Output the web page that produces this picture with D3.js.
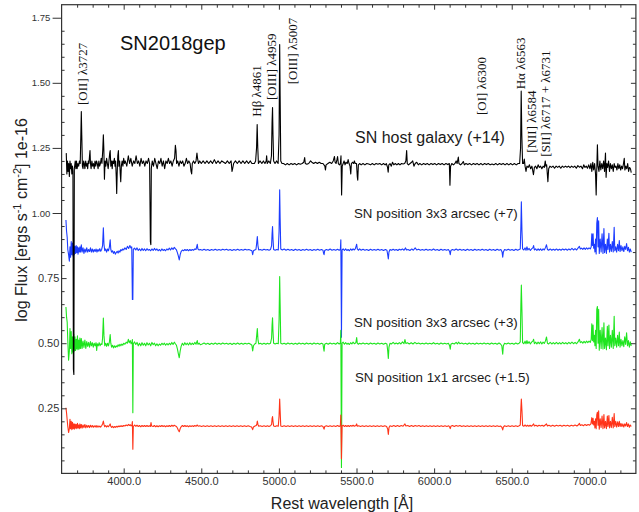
<!DOCTYPE html>
<html>
<head>
<meta charset="utf-8">
<script src="https://cdn.jsdelivr.net/npm/d3@7"></script>
<style>
  body { margin: 0; background: #fff; }
  svg { display: block; }
  text { font-family: "Liberation Sans", Arial, Helvetica, sans-serif; }
</style>
</head>
<body>
<svg id="chart" width="639" height="512"></svg>
<script>
// Rest-frame spectra [wavelength Å, log flux + offset]
const hostGalaxy = [
[3630,1.23],[3634,1.15],[3638,1.20],[3642,1.16],[3646,1.19],[3650,1.14],[3654,1.20],[3658,1.17],[3662,1.19],[3666,1.15],[3670,1.18],[3673,1.16],[3676,0.40],[3679,0.38],[3682,1.17],[3688,1.20],[3692,1.17],[3696,1.20],[3700,1.17],[3705,1.19],[3710,1.18],[3715,1.20],[3720,1.19],[3724,1.30],[3727,1.39],[3730,1.30],[3734,1.18],[3738,1.17],[3742,1.20],[3746,1.19],[3750,1.17],[3755,1.20],[3760,1.18],[3764,1.19],[3768,1.17],[3772,1.20],[3776,1.19],[3780,1.22],[3783,1.24],[3786,1.19],[3790,1.17],[3795,1.20],[3800,1.18],[3805,1.19],[3810,1.17],[3815,1.20],[3820,1.18],[3825,1.20],[3830,1.19],[3835,1.17],[3840,1.20],[3845,1.18],[3850,1.19],[3855,1.21],[3860,1.19],[3865,1.24],[3869,1.30],[3872,1.25],[3876,1.13],[3880,1.20],[3885,1.18],[3890,1.21],[3895,1.19],[3900,1.17],[3905,1.20],[3910,1.23],[3913,1.24],[3917,1.18],[3922,1.20],[3926,1.17],[3930,1.20],[3935,1.19],[3940,1.21],[3944,1.18],[3948,1.20],[3952,1.14],[3955,1.075],[3958,1.15],[3962,1.22],[3966,1.24],[3969,1.18],[3974,1.20],[3978,1.15],[3981,1.12],[3985,1.18],[3990,1.20],[3995,1.18],[4000,1.21],[4005,1.19],[4010,1.20],[4020,1.18],[4030,1.22],[4038,1.19],[4046,1.21],[4055,1.18],[4064,1.20],[4072,1.19],[4080,1.22],[4088,1.19],[4096,1.20],[4104,1.18],[4112,1.21],[4120,1.19],[4128,1.20],[4136,1.18],[4144,1.20],[4152,1.19],[4160,1.21],[4167,1.19],[4172,0.89],[4175,0.878],[4178,1.17],[4184,1.20],[4192,1.18],[4200,1.21],[4208,1.19],[4216,1.17],[4224,1.20],[4232,1.19],[4240,1.21],[4248,1.18],[4256,1.20],[4264,1.17],[4272,1.20],[4280,1.19],[4288,1.21],[4296,1.19],[4304,1.20],[4312,1.18],[4320,1.20],[4328,1.21],[4333,1.26],[4337,1.24],[4341,1.19],[4348,1.20],[4356,1.18],[4364,1.20],[4372,1.19],[4380,1.20],[4388,1.18],[4396,1.19],[4404,1.21],[4412,1.19],[4420,1.20],[4428,1.19],[4434,1.16],[4438,1.15],[4442,1.19],[4450,1.20],[4458,1.19],[4466,1.20],[4472,1.23],[4476,1.21],[4482,1.19],[4490,1.20],[4500,1.19],[4512,1.20],[4524,1.19],[4536,1.20],[4548,1.19],[4560,1.20],[4572,1.19],[4584,1.205],[4596,1.19],[4608,1.20],[4620,1.19],[4632,1.20],[4644,1.195],[4656,1.19],[4668,1.20],[4680,1.19],[4692,1.20],[4698,1.16],[4702,1.17],[4708,1.19],[4720,1.20],[4732,1.19],[4744,1.20],[4756,1.19],[4768,1.20],[4780,1.19],[4792,1.20],[4804,1.19],[4816,1.20],[4826,1.19],[4834,1.19],[4842,1.19],[4850,1.20],[4856,1.25],[4860,1.34],[4864,1.25],[4868,1.19],[4878,1.20],[4890,1.19],[4900,1.20],[4910,1.19],[4918,1.20],[4921,1.22],[4925,1.19],[4935,1.20],[4945,1.19],[4952,1.22],[4956,1.35],[4959,1.405],[4962,1.30],[4966,1.20],[4975,1.19],[4985,1.20],[4995,1.19],[5001,1.30],[5005,1.647],[5008,1.45],[5012,1.20],[5020,1.19],[5030,1.19],[5042,1.185],[5054,1.19],[5066,1.185],[5078,1.19],[5090,1.186],[5102,1.19],[5114,1.185],[5126,1.19],[5138,1.187],[5150,1.19],[5160,1.195],[5166,1.213],[5170,1.19],[5180,1.187],[5192,1.19],[5204,1.20],[5212,1.195],[5224,1.19],[5236,1.195],[5248,1.19],[5260,1.195],[5272,1.19],[5284,1.19],[5296,1.18],[5300,1.165],[5304,1.185],[5316,1.19],[5328,1.195],[5340,1.19],[5350,1.20],[5358,1.217],[5362,1.195],[5368,1.19],[5374,1.205],[5378,1.217],[5383,1.19],[5390,1.185],[5396,1.19],[5400,1.22],[5404,1.069],[5408,1.18],[5414,1.19],[5420,1.20],[5426,1.185],[5432,1.195],[5440,1.19],[5446,1.205],[5452,1.19],[5458,1.18],[5463,1.15],[5467,1.19],[5475,1.195],[5482,1.19],[5486,1.20],[5492,1.19],[5500,1.19],[5505,1.14],[5508,1.126],[5512,1.185],[5520,1.19],[5530,1.185],[5542,1.19],[5554,1.185],[5566,1.19],[5578,1.188],[5590,1.185],[5602,1.19],[5614,1.185],[5626,1.19],[5638,1.187],[5650,1.19],[5662,1.185],[5674,1.19],[5684,1.185],[5692,1.19],[5700,1.175],[5704,1.157],[5708,1.185],[5716,1.19],[5724,1.18],[5732,1.195],[5740,1.185],[5750,1.19],[5760,1.185],[5770,1.19],[5780,1.185],[5790,1.19],[5800,1.188],[5810,1.19],[5818,1.20],[5823,1.24],[5827,1.19],[5835,1.185],[5845,1.19],[5855,1.195],[5862,1.20],[5870,1.18],[5878,1.19],[5888,1.195],[5898,1.185],[5908,1.19],[5920,1.185],[5932,1.19],[5944,1.186],[5956,1.19],[5968,1.185],[5980,1.19],[5992,1.186],[6004,1.19],[6016,1.185],[6028,1.19],[6040,1.186],[6052,1.19],[6064,1.185],[6076,1.19],[6088,1.186],[6098,1.19],[6102,1.107],[6106,1.18],[6114,1.19],[6124,1.185],[6134,1.19],[6142,1.20],[6148,1.19],[6156,1.215],[6160,1.19],[6170,1.185],[6180,1.19],[6188,1.198],[6195,1.185],[6205,1.19],[6217,1.186],[6229,1.19],[6241,1.185],[6253,1.19],[6265,1.186],[6277,1.19],[6289,1.185],[6301,1.19],[6313,1.185],[6325,1.19],[6337,1.186],[6349,1.19],[6361,1.185],[6373,1.188],[6385,1.185],[6397,1.19],[6409,1.185],[6421,1.19],[6433,1.186],[6445,1.19],[6457,1.185],[6469,1.19],[6481,1.185],[6493,1.19],[6505,1.185],[6517,1.19],[6529,1.185],[6541,1.19],[6551,1.19],[6557,1.25],[6561,1.468],[6565,1.30],[6570,1.19],[6576,1.19],[6581,1.207],[6586,1.18],[6592,1.16],[6598,1.18],[6606,1.175],[6614,1.185],[6622,1.17],[6630,1.18],[6640,1.147],[6646,1.175],[6654,1.18],[6662,1.17],[6670,1.185],[6678,1.175],[6686,1.18],[6694,1.17],[6702,1.18],[6710,1.175],[6716,1.20],[6720,1.18],[6725,1.185],[6733,1.12],[6738,1.17],[6746,1.18],[6756,1.175],[6766,1.18],[6776,1.172],[6786,1.18],[6796,1.175],[6806,1.18],[6816,1.172],[6826,1.18],[6836,1.175],[6846,1.18],[6856,1.176],[6866,1.18],[6876,1.174],[6886,1.18],[6896,1.175],[6906,1.18],[6916,1.172],[6926,1.182],[6936,1.176],[6946,1.18],[6956,1.17],[6964,1.185],[6972,1.175],[6980,1.18],[6988,1.172],[6996,1.185],[7004,1.17],[7010,1.19],[7016,1.16],[7022,1.195],[7028,1.165],[7034,1.19],[7040,1.15],[7044,1.069],[7048,1.17],[7052,1.262],[7056,1.18],[7062,1.16],[7068,1.20],[7074,1.165],[7080,1.19],[7086,1.17],[7092,1.20],[7098,1.16],[7104,1.23],[7108,1.137],[7113,1.19],[7118,1.175],[7124,1.20],[7130,1.16],[7136,1.19],[7142,1.17],[7148,1.185],[7154,1.16],[7160,1.19],[7166,1.175],[7172,1.18],[7178,1.165],[7184,1.19],[7190,1.17],[7196,1.185],[7202,1.165],[7208,1.18],[7214,1.17],[7220,1.19],[7225,1.21],[7229,1.165],[7235,1.18],[7241,1.17],[7247,1.19],[7253,1.16],[7259,1.175],[7265,1.17],[7270,1.155]
];

const snPos3x3Plus7 = [
[3628,0.973],[3632,0.93],[3636,0.907],[3640,0.86],[3645,0.84],[3650,0.815],[3654,0.87],[3658,0.83],[3662,0.89],[3666,0.84],[3670,0.885],[3674,0.835],[3678,0.875],[3682,0.84],[3686,0.872],[3690,0.845],[3694,0.875],[3698,0.848],[3702,0.87],[3706,0.842],[3710,0.866],[3714,0.85],[3718,0.87],[3722,0.85],[3727,0.878],[3732,0.85],[3738,0.866],[3744,0.845],[3750,0.862],[3756,0.85],[3762,0.866],[3768,0.85],[3774,0.86],[3780,0.852],[3786,0.866],[3792,0.85],[3798,0.862],[3804,0.85],[3810,0.86],[3816,0.852],[3822,0.862],[3828,0.85],[3834,0.86],[3840,0.853],[3846,0.863],[3852,0.853],[3858,0.86],[3864,0.875],[3869,0.943],[3873,0.88],[3878,0.855],[3884,0.862],[3890,0.85],[3896,0.862],[3902,0.855],[3908,0.87],[3913,0.897],[3917,0.86],[3922,0.85],[3928,0.855],[3934,0.845],[3940,0.852],[3946,0.842],[3952,0.848],[3958,0.853],[3964,0.846],[3970,0.855],[3976,0.85],[3982,0.86],[3988,0.855],[3994,0.862],[4000,0.858],[4008,0.866],[4016,0.86],[4024,0.872],[4032,0.864],[4040,0.875],[4046,0.866],[4052,0.87],[4056,0.668],[4059,0.668],[4062,0.86],[4070,0.865],[4078,0.858],[4086,0.866],[4094,0.856],[4102,0.862],[4110,0.855],[4118,0.864],[4126,0.856],[4134,0.862],[4142,0.855],[4150,0.863],[4158,0.857],[4166,0.86],[4174,0.855],[4182,0.862],[4190,0.856],[4198,0.864],[4206,0.857],[4214,0.862],[4222,0.855],[4230,0.86],[4238,0.854],[4246,0.862],[4254,0.856],[4262,0.86],[4270,0.855],[4278,0.862],[4286,0.858],[4294,0.865],[4302,0.858],[4310,0.866],[4318,0.86],[4326,0.868],[4334,0.862],[4340,0.858],[4346,0.848],[4352,0.835],[4358,0.82],[4364,0.84],[4370,0.852],[4378,0.858],[4386,0.855],[4394,0.86],[4402,0.856],[4410,0.86],[4418,0.855],[4426,0.86],[4434,0.856],[4442,0.86],[4450,0.857],[4458,0.862],[4466,0.86],[4471,0.872],[4474,0.88],[4478,0.862],[4486,0.858],[4494,0.86],[4506,0.857],[4518,0.861],[4530,0.857],[4542,0.86],[4554,0.856],[4566,0.86],[4578,0.857],[4590,0.861],[4602,0.857],[4614,0.86],[4626,0.857],[4638,0.861],[4650,0.858],[4662,0.861],[4674,0.857],[4686,0.86],[4698,0.856],[4710,0.86],[4722,0.857],[4734,0.861],[4746,0.857],[4758,0.86],[4770,0.857],[4782,0.861],[4794,0.858],[4806,0.86],[4818,0.857],[4826,0.855],[4831,0.84],[4836,0.855],[4844,0.858],[4852,0.86],[4857,0.885],[4861,0.91],[4865,0.875],[4870,0.858],[4880,0.86],[4892,0.857],[4904,0.861],[4916,0.858],[4926,0.86],[4936,0.857],[4946,0.86],[4953,0.875],[4956,0.92],[4959,0.948],[4962,0.9],[4966,0.86],[4976,0.857],[4986,0.86],[4996,0.858],[5001,0.93],[5005,1.089],[5008,0.98],[5012,0.862],[5022,0.858],[5034,0.862],[5046,0.857],[5058,0.861],[5070,0.857],[5082,0.86],[5094,0.856],[5106,0.861],[5118,0.857],[5130,0.86],[5142,0.856],[5154,0.86],[5166,0.857],[5178,0.861],[5190,0.857],[5202,0.86],[5214,0.856],[5226,0.86],[5238,0.857],[5250,0.861],[5262,0.857],[5274,0.86],[5284,0.857],[5288,0.845],[5291,0.84],[5295,0.856],[5306,0.86],[5318,0.857],[5330,0.862],[5342,0.857],[5354,0.86],[5366,0.857],[5378,0.861],[5388,0.857],[5396,0.86],[5399,0.897],[5403,0.523],[5407,0.858],[5414,0.862],[5422,0.856],[5430,0.862],[5438,0.856],[5446,0.86],[5454,0.855],[5462,0.862],[5470,0.857],[5478,0.862],[5486,0.858],[5492,0.862],[5497,0.872],[5501,0.88],[5505,0.862],[5512,0.857],[5520,0.862],[5530,0.857],[5542,0.861],[5554,0.857],[5566,0.86],[5578,0.856],[5590,0.861],[5602,0.857],[5614,0.86],[5626,0.857],[5638,0.861],[5650,0.857],[5662,0.86],[5674,0.856],[5686,0.86],[5696,0.857],[5701,0.84],[5705,0.824],[5709,0.85],[5716,0.86],[5726,0.857],[5736,0.861],[5746,0.857],[5756,0.86],[5766,0.856],[5776,0.861],[5786,0.858],[5796,0.862],[5806,0.857],[5816,0.866],[5822,0.858],[5832,0.86],[5844,0.856],[5856,0.862],[5866,0.857],[5878,0.866],[5888,0.858],[5900,0.861],[5912,0.857],[5924,0.86],[5936,0.857],[5948,0.861],[5960,0.857],[5972,0.86],[5984,0.857],[5996,0.862],[6008,0.857],[6020,0.86],[6032,0.856],[6044,0.861],[6056,0.857],[6068,0.86],[6080,0.857],[6092,0.86],[6100,0.852],[6104,0.84],[6108,0.856],[6118,0.86],[6130,0.857],[6142,0.862],[6154,0.857],[6166,0.861],[6178,0.857],[6190,0.86],[6202,0.856],[6214,0.861],[6226,0.857],[6238,0.86],[6250,0.856],[6262,0.861],[6274,0.857],[6286,0.86],[6298,0.857],[6310,0.861],[6322,0.857],[6334,0.86],[6346,0.856],[6358,0.861],[6370,0.857],[6382,0.86],[6394,0.856],[6406,0.861],[6418,0.857],[6430,0.86],[6438,0.85],[6442,0.83],[6446,0.85],[6454,0.86],[6466,0.857],[6478,0.861],[6490,0.857],[6502,0.86],[6514,0.856],[6526,0.861],[6538,0.857],[6548,0.86],[6555,0.862],[6559,0.95],[6562,1.043],[6566,0.93],[6570,0.862],[6578,0.858],[6586,0.866],[6592,0.857],[6598,0.87],[6604,0.858],[6612,0.864],[6620,0.856],[6628,0.862],[6636,0.866],[6641,0.875],[6646,0.858],[6654,0.862],[6662,0.856],[6670,0.862],[6678,0.857],[6686,0.862],[6694,0.856],[6702,0.862],[6710,0.858],[6718,0.868],[6724,0.878],[6730,0.86],[6738,0.857],[6748,0.862],[6758,0.857],[6768,0.861],[6778,0.857],[6788,0.862],[6798,0.857],[6808,0.861],[6818,0.857],[6828,0.862],[6838,0.858],[6848,0.862],[6858,0.857],[6868,0.862],[6878,0.858],[6888,0.864],[6898,0.858],[6908,0.863],[6918,0.858],[6928,0.866],[6936,0.872],[6942,0.862],[6950,0.865],[6958,0.86],[6966,0.866],[6974,0.86],[6982,0.866],[6990,0.861],[6998,0.866],[7006,0.862],[7012,0.87],[7016,0.92],[7020,0.875],[7024,0.92],[7028,0.865],[7032,0.88],[7036,0.85],[7040,0.9],[7044,0.843],[7048,0.96],[7052,0.983],[7056,0.87],[7060,0.97],[7064,0.845],[7070,0.9],[7076,0.85],[7082,0.92],[7088,0.845],[7094,0.94],[7098,0.848],[7104,0.88],[7110,0.845],[7116,0.9],[7120,0.86],[7126,0.922],[7130,0.85],[7136,0.88],[7142,0.852],[7148,0.89],[7154,0.85],[7160,0.945],[7164,0.855],[7170,0.87],[7176,0.85],[7182,0.88],[7188,0.855],[7193,0.894],[7198,0.852],[7204,0.875],[7210,0.855],[7216,0.87],[7222,0.852],[7228,0.872],[7234,0.86],[7240,0.883],[7246,0.855],[7252,0.868],[7258,0.85],[7264,0.862],[7270,0.85]
];

const snPos3x3Plus3 = [
[3628,0.639],[3632,0.6],[3636,0.581],[3640,0.51],[3645,0.435],[3650,0.47],[3654,0.556],[3658,0.48],[3662,0.545],[3666,0.46],[3670,0.525],[3674,0.465],[3678,0.535],[3682,0.47],[3686,0.525],[3690,0.472],[3694,0.515],[3698,0.478],[3702,0.528],[3706,0.475],[3710,0.512],[3714,0.478],[3718,0.52],[3722,0.48],[3727,0.518],[3732,0.48],[3738,0.508],[3744,0.484],[3750,0.512],[3756,0.48],[3762,0.506],[3768,0.488],[3774,0.503],[3780,0.485],[3786,0.506],[3792,0.49],[3798,0.502],[3804,0.485],[3810,0.5],[3816,0.49],[3822,0.502],[3826,0.472],[3830,0.498],[3836,0.49],[3842,0.502],[3848,0.49],[3854,0.498],[3860,0.495],[3864,0.52],[3869,0.597],[3873,0.53],[3878,0.49],[3884,0.5],[3890,0.488],[3896,0.5],[3902,0.49],[3908,0.505],[3913,0.533],[3917,0.5],[3922,0.485],[3928,0.492],[3934,0.482],[3940,0.49],[3946,0.484],[3952,0.49],[3958,0.486],[3964,0.494],[3970,0.488],[3976,0.496],[3982,0.49],[3988,0.497],[3994,0.492],[4000,0.5],[4008,0.496],[4016,0.504],[4024,0.5],[4030,0.515],[4036,0.502],[4042,0.51],[4048,0.498],[4053,0.505],[4056,0.514],[4059,0.233],[4062,0.498],[4070,0.505],[4078,0.495],[4086,0.503],[4094,0.49],[4102,0.5],[4110,0.49],[4118,0.502],[4126,0.492],[4134,0.5],[4142,0.49],[4150,0.502],[4158,0.493],[4166,0.5],[4174,0.49],[4182,0.503],[4190,0.494],[4198,0.5],[4206,0.49],[4214,0.498],[4222,0.49],[4230,0.497],[4238,0.492],[4246,0.5],[4254,0.494],[4262,0.5],[4270,0.492],[4278,0.499],[4286,0.493],[4294,0.5],[4302,0.494],[4310,0.503],[4318,0.495],[4326,0.504],[4334,0.497],[4340,0.492],[4346,0.478],[4352,0.46],[4358,0.444],[4364,0.47],[4370,0.488],[4378,0.5],[4386,0.492],[4394,0.502],[4402,0.494],[4410,0.5],[4418,0.493],[4426,0.502],[4434,0.494],[4442,0.5],[4450,0.495],[4458,0.503],[4466,0.496],[4471,0.505],[4474,0.51],[4478,0.496],[4486,0.5],[4494,0.494],[4506,0.497],[4518,0.501],[4530,0.496],[4542,0.5],[4554,0.495],[4566,0.5],[4578,0.496],[4590,0.501],[4602,0.496],[4614,0.5],[4626,0.496],[4638,0.501],[4650,0.497],[4662,0.5],[4674,0.496],[4686,0.5],[4698,0.495],[4710,0.5],[4722,0.496],[4734,0.501],[4746,0.496],[4758,0.5],[4770,0.496],[4782,0.5],[4794,0.497],[4806,0.5],[4818,0.496],[4826,0.492],[4831,0.47],[4836,0.49],[4844,0.497],[4852,0.5],[4857,0.53],[4861,0.556],[4865,0.515],[4870,0.497],[4880,0.5],[4892,0.496],[4904,0.5],[4916,0.496],[4926,0.5],[4936,0.497],[4946,0.5],[4953,0.52],[4956,0.57],[4959,0.598],[4962,0.545],[4966,0.5],[4976,0.497],[4986,0.5],[4996,0.498],[5001,0.59],[5005,0.756],[5008,0.65],[5012,0.5],[5022,0.497],[5034,0.5],[5046,0.496],[5058,0.501],[5070,0.497],[5082,0.5],[5094,0.496],[5106,0.5],[5118,0.496],[5130,0.501],[5142,0.497],[5154,0.5],[5166,0.496],[5178,0.501],[5190,0.497],[5202,0.5],[5214,0.496],[5226,0.501],[5238,0.497],[5250,0.5],[5262,0.496],[5274,0.5],[5284,0.497],[5288,0.48],[5291,0.469],[5295,0.496],[5306,0.5],[5318,0.496],[5330,0.501],[5342,0.497],[5354,0.5],[5366,0.496],[5378,0.502],[5388,0.497],[5396,0.5],[5399,0.55],[5403,0.023],[5407,0.5],[5414,0.504],[5422,0.496],[5430,0.502],[5438,0.496],[5446,0.5],[5454,0.495],[5462,0.502],[5470,0.497],[5478,0.504],[5486,0.498],[5496,0.502],[5501,0.522],[5505,0.5],[5512,0.496],[5520,0.5],[5530,0.497],[5542,0.501],[5554,0.497],[5566,0.5],[5578,0.496],[5590,0.501],[5602,0.497],[5614,0.5],[5626,0.496],[5638,0.501],[5650,0.497],[5662,0.5],[5674,0.496],[5686,0.5],[5696,0.497],[5701,0.47],[5705,0.441],[5709,0.485],[5716,0.5],[5726,0.497],[5736,0.503],[5746,0.497],[5756,0.501],[5766,0.497],[5776,0.502],[5786,0.497],[5796,0.505],[5806,0.498],[5812,0.514],[5818,0.499],[5828,0.502],[5840,0.497],[5852,0.502],[5864,0.497],[5876,0.503],[5888,0.498],[5900,0.501],[5912,0.497],[5924,0.5],[5936,0.497],[5948,0.501],[5960,0.497],[5972,0.5],[5984,0.497],[5996,0.502],[6008,0.497],[6020,0.5],[6032,0.496],[6044,0.501],[6056,0.497],[6068,0.5],[6080,0.497],[6092,0.5],[6100,0.49],[6104,0.477],[6108,0.496],[6118,0.5],[6130,0.497],[6142,0.503],[6150,0.497],[6158,0.504],[6166,0.498],[6178,0.501],[6190,0.497],[6202,0.5],[6214,0.496],[6226,0.501],[6238,0.497],[6250,0.5],[6262,0.496],[6274,0.501],[6286,0.497],[6298,0.5],[6310,0.497],[6322,0.501],[6334,0.497],[6346,0.5],[6358,0.496],[6370,0.501],[6382,0.497],[6394,0.5],[6406,0.496],[6418,0.501],[6428,0.497],[6436,0.49],[6442,0.458],[6446,0.49],[6454,0.5],[6466,0.497],[6478,0.501],[6490,0.497],[6502,0.5],[6514,0.496],[6526,0.501],[6538,0.497],[6548,0.5],[6555,0.505],[6559,0.65],[6562,0.723],[6566,0.62],[6570,0.502],[6578,0.498],[6586,0.508],[6592,0.498],[6598,0.51],[6604,0.499],[6612,0.506],[6620,0.497],[6628,0.504],[6636,0.508],[6641,0.515],[6646,0.498],[6654,0.504],[6662,0.497],[6670,0.504],[6678,0.498],[6686,0.505],[6694,0.497],[6702,0.504],[6710,0.499],[6718,0.51],[6724,0.524],[6730,0.5],[6738,0.497],[6748,0.503],[6758,0.497],[6768,0.502],[6778,0.497],[6788,0.503],[6798,0.497],[6808,0.502],[6818,0.497],[6828,0.503],[6838,0.498],[6848,0.502],[6858,0.497],[6868,0.503],[6878,0.498],[6888,0.504],[6898,0.498],[6908,0.503],[6918,0.498],[6928,0.506],[6936,0.515],[6942,0.502],[6950,0.506],[6958,0.5],[6966,0.507],[6974,0.501],[6982,0.508],[6990,0.502],[6998,0.508],[7006,0.503],[7012,0.515],[7016,0.575],[7020,0.51],[7024,0.57],[7028,0.505],[7032,0.53],[7036,0.49],[7040,0.55],[7044,0.48],[7048,0.63],[7052,0.641],[7056,0.5],[7060,0.63],[7064,0.473],[7070,0.55],[7076,0.48],[7082,0.56],[7088,0.478],[7094,0.578],[7098,0.48],[7104,0.52],[7110,0.475],[7116,0.565],[7120,0.49],[7126,0.57],[7130,0.48],[7136,0.53],[7142,0.485],[7148,0.55],[7154,0.48],[7160,0.603],[7164,0.49],[7170,0.52],[7176,0.485],[7182,0.53],[7188,0.49],[7193,0.543],[7198,0.485],[7204,0.515],[7210,0.49],[7216,0.51],[7222,0.487],[7228,0.525],[7234,0.495],[7240,0.54],[7246,0.49],[7252,0.51],[7258,0.485],[7264,0.505],[7270,0.49]
];

const snPos1x1Plus15 = [
[3628,0.252],[3632,0.232],[3636,0.205],[3640,0.18],[3645,0.157],[3650,0.172],[3654,0.208],[3658,0.172],[3662,0.2],[3666,0.168],[3670,0.196],[3674,0.172],[3678,0.19],[3682,0.17],[3686,0.19],[3690,0.174],[3694,0.188],[3698,0.172],[3702,0.192],[3706,0.175],[3710,0.186],[3714,0.172],[3718,0.19],[3722,0.175],[3727,0.188],[3732,0.174],[3738,0.186],[3744,0.176],[3750,0.188],[3756,0.175],[3762,0.185],[3768,0.177],[3774,0.184],[3780,0.176],[3786,0.185],[3792,0.178],[3798,0.184],[3804,0.177],[3810,0.183],[3816,0.178],[3822,0.184],[3828,0.177],[3834,0.183],[3840,0.178],[3846,0.182],[3852,0.178],[3858,0.183],[3864,0.19],[3869,0.201],[3873,0.188],[3878,0.179],[3884,0.184],[3890,0.178],[3896,0.183],[3902,0.179],[3908,0.185],[3913,0.19],[3917,0.181],[3922,0.177],[3928,0.181],[3934,0.176],[3940,0.18],[3946,0.177],[3952,0.181],[3958,0.178],[3964,0.182],[3970,0.179],[3976,0.183],[3982,0.18],[3988,0.183],[3994,0.18],[4000,0.184],[4008,0.182],[4016,0.186],[4024,0.183],[4030,0.188],[4036,0.184],[4042,0.187],[4048,0.182],[4053,0.186],[4056,0.199],[4059,0.093],[4062,0.18],[4070,0.186],[4078,0.181],[4086,0.185],[4094,0.18],[4102,0.184],[4110,0.179],[4118,0.184],[4126,0.18],[4134,0.184],[4142,0.18],[4150,0.184],[4158,0.18],[4166,0.183],[4172,0.18],[4176,0.195],[4180,0.182],[4190,0.18],[4198,0.184],[4206,0.179],[4214,0.183],[4222,0.179],[4230,0.183],[4238,0.18],[4246,0.184],[4254,0.18],[4262,0.183],[4270,0.179],[4278,0.183],[4286,0.18],[4294,0.184],[4302,0.18],[4310,0.185],[4318,0.181],[4326,0.185],[4334,0.182],[4340,0.18],[4346,0.174],[4352,0.166],[4358,0.16],[4364,0.172],[4370,0.179],[4378,0.184],[4386,0.18],[4394,0.184],[4402,0.18],[4410,0.183],[4418,0.179],[4426,0.183],[4434,0.18],[4442,0.183],[4450,0.18],[4458,0.184],[4466,0.181],[4474,0.186],[4480,0.181],[4490,0.183],[4502,0.18],[4514,0.183],[4526,0.18],[4538,0.183],[4550,0.18],[4562,0.183],[4574,0.18],[4586,0.183],[4598,0.18],[4610,0.183],[4622,0.18],[4634,0.183],[4646,0.18],[4658,0.183],[4670,0.18],[4682,0.183],[4694,0.18],[4706,0.183],[4718,0.18],[4730,0.183],[4742,0.18],[4754,0.183],[4766,0.18],[4778,0.183],[4790,0.18],[4802,0.183],[4814,0.18],[4824,0.178],[4831,0.168],[4836,0.178],[4846,0.182],[4854,0.184],[4858,0.19],[4861,0.201],[4865,0.188],[4870,0.181],[4880,0.183],[4892,0.18],[4904,0.183],[4916,0.18],[4926,0.183],[4936,0.18],[4946,0.183],[4953,0.188],[4956,0.21],[4959,0.218],[4962,0.2],[4966,0.182],[4976,0.18],[4986,0.183],[4996,0.181],[5001,0.22],[5005,0.286],[5008,0.24],[5012,0.182],[5022,0.18],[5034,0.183],[5046,0.18],[5058,0.183],[5070,0.18],[5082,0.183],[5094,0.18],[5106,0.183],[5118,0.18],[5130,0.183],[5142,0.18],[5154,0.183],[5166,0.18],[5178,0.183],[5190,0.18],[5202,0.183],[5214,0.18],[5226,0.183],[5238,0.18],[5250,0.183],[5262,0.18],[5274,0.183],[5284,0.18],[5288,0.174],[5291,0.17],[5295,0.18],[5306,0.183],[5318,0.18],[5330,0.183],[5342,0.18],[5354,0.183],[5366,0.18],[5378,0.184],[5388,0.18],[5396,0.183],[5399,0.224],[5403,0.056],[5407,0.182],[5414,0.185],[5422,0.18],[5430,0.184],[5438,0.18],[5446,0.184],[5454,0.18],[5462,0.184],[5470,0.181],[5478,0.185],[5486,0.181],[5496,0.184],[5501,0.19],[5505,0.181],[5514,0.183],[5526,0.18],[5538,0.183],[5550,0.18],[5562,0.183],[5574,0.18],[5586,0.183],[5598,0.18],[5610,0.183],[5622,0.18],[5634,0.183],[5646,0.18],[5658,0.183],[5670,0.18],[5682,0.183],[5694,0.18],[5701,0.17],[5705,0.15],[5709,0.175],[5716,0.183],[5728,0.18],[5740,0.184],[5752,0.18],[5764,0.184],[5776,0.18],[5788,0.184],[5800,0.181],[5812,0.19],[5818,0.182],[5830,0.184],[5842,0.18],[5854,0.184],[5866,0.18],[5878,0.184],[5890,0.181],[5902,0.184],[5914,0.18],[5926,0.183],[5938,0.18],[5950,0.183],[5962,0.18],[5974,0.183],[5986,0.18],[5998,0.183],[6010,0.18],[6022,0.183],[6034,0.18],[6046,0.183],[6058,0.18],[6070,0.183],[6082,0.18],[6094,0.183],[6100,0.178],[6104,0.172],[6108,0.181],[6118,0.184],[6130,0.18],[6142,0.184],[6154,0.181],[6166,0.184],[6178,0.18],[6190,0.183],[6202,0.18],[6214,0.183],[6226,0.18],[6238,0.183],[6250,0.18],[6262,0.183],[6274,0.18],[6286,0.183],[6298,0.18],[6310,0.183],[6322,0.18],[6334,0.183],[6346,0.18],[6358,0.183],[6370,0.18],[6382,0.183],[6394,0.18],[6406,0.183],[6418,0.18],[6428,0.182],[6436,0.178],[6442,0.167],[6446,0.178],[6454,0.183],[6466,0.18],[6478,0.183],[6490,0.18],[6502,0.183],[6514,0.18],[6526,0.183],[6538,0.18],[6548,0.183],[6555,0.186],[6559,0.25],[6562,0.286],[6566,0.24],[6570,0.184],[6578,0.181],[6586,0.186],[6594,0.181],[6602,0.185],[6610,0.181],[6618,0.185],[6626,0.181],[6634,0.185],[6641,0.19],[6646,0.182],[6656,0.185],[6666,0.181],[6676,0.185],[6686,0.182],[6696,0.185],[6706,0.181],[6716,0.186],[6724,0.19],[6730,0.182],[6740,0.185],[6752,0.181],[6764,0.185],[6776,0.181],[6788,0.185],[6800,0.182],[6812,0.185],[6824,0.181],[6836,0.185],[6848,0.182],[6860,0.185],[6872,0.181],[6884,0.185],[6896,0.182],[6908,0.186],[6920,0.182],[6930,0.187],[6936,0.192],[6942,0.184],[6952,0.187],[6962,0.183],[6972,0.188],[6982,0.184],[6992,0.188],[7002,0.185],[7010,0.19],[7016,0.214],[7020,0.19],[7024,0.212],[7028,0.186],[7032,0.2],[7036,0.175],[7040,0.21],[7044,0.172],[7048,0.225],[7052,0.235],[7056,0.185],[7060,0.24],[7064,0.17],[7070,0.21],[7076,0.176],[7082,0.22],[7088,0.172],[7094,0.226],[7098,0.175],[7104,0.2],[7110,0.172],[7116,0.22],[7120,0.18],[7126,0.222],[7130,0.175],[7136,0.2],[7142,0.176],[7148,0.215],[7154,0.175],[7160,0.23],[7164,0.18],[7170,0.2],[7176,0.178],[7182,0.198],[7188,0.18],[7193,0.2],[7198,0.18],[7204,0.192],[7210,0.18],[7216,0.19],[7222,0.178],[7228,0.19],[7234,0.182],[7240,0.195],[7246,0.18],[7252,0.19],[7258,0.177],[7264,0.186],[7270,0.18]
];

const seriesNames = ["SN host galaxy (+14)", "SN position 3x3 arcsec (+7)", "SN position 3x3 arcsec (+3)", "SN position 1x1 arcsec (+1.5)"];
const lineNames = ["[OII] λ3727", "Hβ λ4861", "[OIII] λ4959", "[OIII] λ5007", "[OI] λ6300", "Hα λ6563", "[NII] λ6584", "[SII] λ6717 + λ6731"];
const xTickValues = [4000, 4500, 5000, 5500, 6000, 6500, 7000];
const yTickValues = [0.25, 0.5, 0.75, 1.0, 1.25, 1.5, 1.75];
const chartTitle = "SN2018gep";

// ---- layout ----
const svg = d3.select("#chart");
const L = 61.6, R = 635.9, T = 4.7, B = 473.4;
const x = d3.scaleLinear().domain([3600, 7300]).range([L, R]);
const y = d3.scaleLinear().domain([0, 1.8]).range([B, T]);
const axisColor = "#333";

const line = d3.line().x(d => x(d[0])).y(d => y(d[1]));

const spectra = [
  { data: snPos3x3Plus7, color: "#1c3cff" },
  { data: snPos3x3Plus3, color: "#1fe51f" },
  { data: snPos1x1Plus15, color: "#ff3318" },
  { data: hostGalaxy, color: "#000000" }
];

const plot = svg.append("g");
plot.selectAll("path.spec")
  .data(spectra)
  .join("path")
  .attr("class", "spec")
  .attr("fill", "none")
  .attr("stroke", d => d.color)
  .attr("stroke-width", 1.1)
  .attr("stroke-linejoin", "round")
  .attr("d", d => line(d.data));

// frame
svg.append("rect")
  .attr("x", L).attr("y", T).attr("width", R - L).attr("height", B - T)
  .attr("fill", "none").attr("stroke", axisColor).attr("stroke-width", 1.2);

const xMinor = d3.range(3700, 7300, 100).filter(v => !xTickValues.includes(v));
const yMinor = d3.range(1, 36).map(i => +(i * 0.05).toFixed(2)).filter(v => !yTickValues.includes(v));

function styleAxis(g) {
  g.select(".domain").remove();
  g.selectAll(".tick line").attr("stroke", axisColor);
  g.selectAll(".tick text").attr("fill", "#333").style("font-family", "'Liberation Sans', Arial, sans-serif");
}

// bottom
svg.append("g").attr("transform", `translate(0,${B})`)
  .call(d3.axisBottom(x).tickValues(xTickValues).tickSize(-5).tickPadding(3.5).tickFormat(d3.format(".1f")))
  .call(styleAxis)
  .call(g => g.selectAll(".tick text").style("font-size", "11px"));
svg.append("g").attr("transform", `translate(0,${B})`)
  .call(d3.axisBottom(x).tickValues(xMinor).tickSize(-3).tickFormat(""))
  .call(styleAxis);
// top
svg.append("g").attr("transform", `translate(0,${T})`)
  .call(d3.axisTop(x).tickValues(xTickValues).tickSize(-5).tickFormat(""))
  .call(styleAxis);
svg.append("g").attr("transform", `translate(0,${T})`)
  .call(d3.axisTop(x).tickValues(xMinor).tickSize(-3).tickFormat(""))
  .call(styleAxis);
// left: lower labels with inward ticks, upper labels with outward ticks
svg.append("g").attr("transform", `translate(${L},0)`)
  .call(d3.axisLeft(y).tickValues(yTickValues.filter(v => v < 1)).tickSize(-5).tickPadding(2.3).tickFormat(d3.format(".2f")))
  .call(styleAxis)
  .call(g => g.selectAll(".tick text").style("font-size", "11px"));
svg.append("g").attr("transform", `translate(${L},0)`)
  .call(d3.axisLeft(y).tickValues(yTickValues.filter(v => v >= 1)).tickSize(9).tickPadding(2.4).tickFormat(d3.format(".2f")))
  .call(styleAxis)
  .call(g => g.selectAll(".tick text").style("font-size", "9.5px"));
svg.append("g").attr("transform", `translate(${L},0)`)
  .call(d3.axisLeft(y).tickValues(yMinor).tickSize(-3).tickFormat(""))
  .call(styleAxis);
// right
svg.append("g").attr("transform", `translate(${R},0)`)
  .call(d3.axisRight(y).tickValues(yTickValues).tickSize(-5).tickFormat(""))
  .call(styleAxis);
svg.append("g").attr("transform", `translate(${R},0)`)
  .call(d3.axisRight(y).tickValues(yMinor).tickSize(-3).tickFormat(""))
  .call(styleAxis);

// axis titles
svg.append("text")
  .attr("x", 342).attr("y", 508.5)
  .attr("text-anchor", "middle")
  .style("font-size", "16px").attr("fill", "#222")
  .text("Rest wavelength [Å]");

const yTitle = svg.append("text")
  .attr("transform", "translate(26.6,220) rotate(-90)")
  .attr("text-anchor", "middle")
  .style("font-size", "16px").attr("fill", "#222");
yTitle.append("tspan").text("log Flux [ergs s");
yTitle.append("tspan").attr("dy", -6).style("font-size", "11px").text("-1");
yTitle.append("tspan").attr("dy", 6).text(" cm");
yTitle.append("tspan").attr("dy", -6).style("font-size", "11px").text("-2");
yTitle.append("tspan").attr("dy", 6).text("] 1e-16");

// title
svg.append("text")
  .attr("x", 120).attr("y", 50)
  .style("font-size", "20px").attr("fill", "#111")
  .text(chartTitle);

// emission-line annotations (vertical, serif)
const linePos = [
  [82, 105], [256.7, 116.7], [271.7, 100], [292.7, 84.3],
  [481.7, 115], [520, 89.3], [531, 152.7], [545.7, 156.7]
];
svg.append("g").selectAll("text")
  .data(lineNames)
  .join("text")
  .attr("transform", (d, i) => `translate(${linePos[i][0] + 4.5},${linePos[i][1]}) rotate(-90)`)
  .style("font-family", "'Liberation Serif', 'Times New Roman', serif")
  .style("font-size", "13px")
  .attr("fill", "#111")
  .text(d => d);

// spectrum captions
const captionPos = [[355, 143.3, 16], [354, 217.5, 13.3], [354, 326.7, 13.3], [355, 381.7, 13.3]];
svg.append("g").selectAll("text")
  .data(seriesNames)
  .join("text")
  .attr("x", (d, i) => captionPos[i][0])
  .attr("y", (d, i) => captionPos[i][1])
  .style("font-size", (d, i) => captionPos[i][2] + "px")
  .attr("fill", "#1a1a1a")
  .text(d => d);
</script>
</body>
</html>
